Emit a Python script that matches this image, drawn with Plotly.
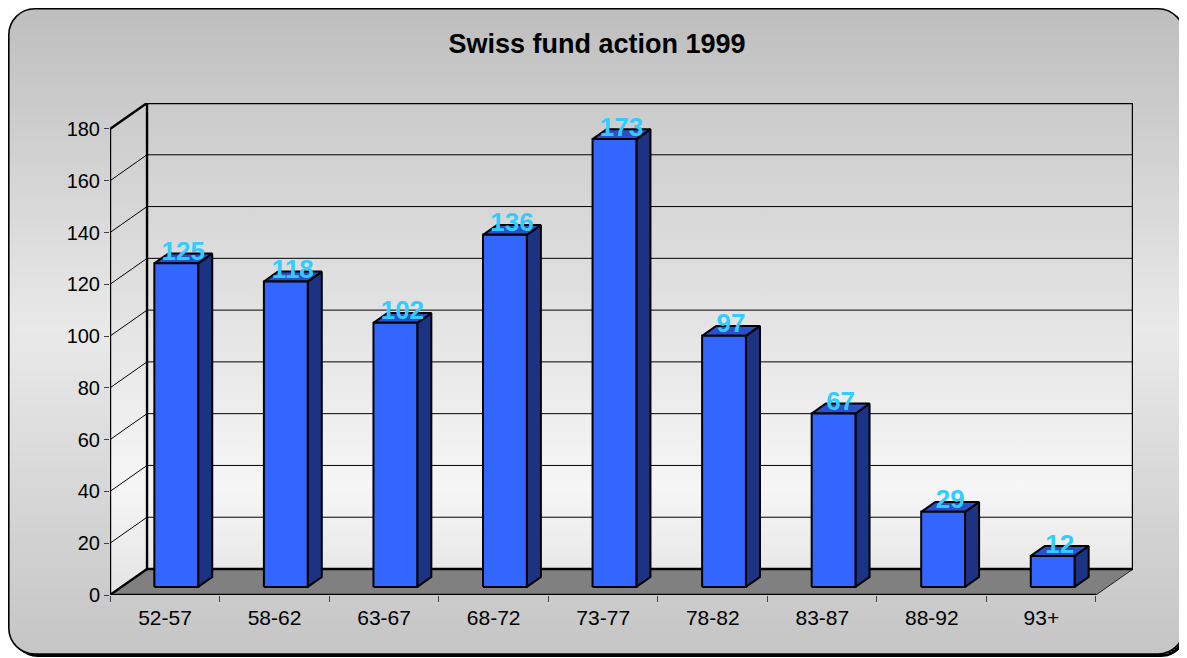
import math
import plotly.graph_objects as go

# ---------------- data ----------------
categories = ["52-57", "58-62", "63-67", "68-72", "73-77", "78-82", "83-87", "88-92", "93+"]
values = [125, 118, 102, 136, 173, 97, 67, 29, 12]
y_ticks = [0, 20, 40, 60, 80, 100, 120, 140, 160, 180]
title_text = "Swiss fund action 1999"

# ---------------- geometry / style ----------------
# the page body adds an 8px margin, so the figure is 8px smaller than the window
W, H = 1179, 650
L, R, T, B = 102, 54, 95, 63
N = len(categories)
YMAX = y_ticks[-1]
KX = 0.338     # depth offset in category units
KY = 10.04     # depth offset in value units
D0, D1 = 0.31, 0.69   # bar depth span (fraction of full depth)
HALF = 0.2            # half bar width in category units
FONT = "Liberation Sans, Arial, sans-serif"

XR = [-0.5, N - 0.5 + KX]
YR = [0, YMAX + KY]
PW = W - L - R
PH = H - T - B


def to_paper(px, py):
    return (px - L) / PW, (H - B - py) / PH


fig = go.Figure()

# ---------------- chart-area background (rounded, gradient) ----------------
shapes = []
BX0, BY0, BX1, BY1, RAD = 0.8, 0.8, 1176, 646, 26


def rr_path(x0, y0, x1, y1, r):
    k = 0.5523 * r
    pts = [("M", [(x0 + r, y0)]), ("L", [(x1 - r, y0)]),
           ("C", [(x1 - r + k, y0), (x1, y0 + r - k), (x1, y0 + r)]),
           ("L", [(x1, y1 - r)]),
           ("C", [(x1, y1 - r + k), (x1 - r + k, y1), (x1 - r, y1)]),
           ("L", [(x0 + r, y1)]),
           ("C", [(x0 + r - k, y1), (x0, y1 - r + k), (x0, y1 - r)]),
           ("L", [(x0, y0 + r)]),
           ("C", [(x0, y0 + r - k), (x0 + r - k, y0), (x0 + r, y0)])]
    s = ""
    for cmd, ps in pts:
        s += cmd + " ".join("%.5f,%.5f" % to_paper(a, b) for a, b in ps) + " "
    return s + "Z"


# shadow
shapes.append(dict(type="path", xref="paper", yref="paper", layer="below",
                   path=rr_path(BX0 + 3, BY0 + 3, BX1 + 3, BY1 + 3, RAD),
                   fillcolor="#000000", line=dict(width=0)))

stops = [(BY0, 190), (322, 233), (BY1, 197)]


def grey_at(y):
    for (ya, ca), (yb, cb) in zip(stops[:-1], stops[1:]):
        if ya <= y <= yb:
            t = (y - ya) / (yb - ya)
            return int(round(ca + (cb - ca) * t))
    return stops[-1][1]


step = 2
y = BY0
while y < BY1:
    yc = y + step / 2
    inset = 0.0
    if yc < BY0 + RAD:
        d = BY0 + RAD - yc
        inset = RAD - math.sqrt(max(RAD * RAD - d * d, 0))
    elif yc > BY1 - RAD:
        d = yc - (BY1 - RAD)
        inset = RAD - math.sqrt(max(RAD * RAD - d * d, 0))
    g = grey_at(yc)
    xa, ya_ = to_paper(BX0 + inset, y)
    xb, yb_ = to_paper(BX1 - inset, min(y + step + 0.6, BY1))
    shapes.append(dict(type="rect", xref="paper", yref="paper", layer="below",
                       x0=xa, x1=xb, y0=ya_, y1=yb_,
                       fillcolor="rgb(%d,%d,%d)" % (g, g, g), line=dict(width=0)))
    y += step

shapes.append(dict(type="path", xref="paper", yref="paper", layer="below",
                   path=rr_path(BX0, BY0, BX1, BY1, RAD),
                   fillcolor="rgba(0,0,0,0)", line=dict(color="#000000", width=1.6)))

# ---------------- walls ----------------
wall_grad = dict(type="vertical", start=0, stop=YMAX + KY,
                 colorscale=[[0, "#e4e4e4"], [0.22, "#f6f6f6"], [1, "#cbcbcb"]])
x_left, x_right = XR[0], N - 0.5
# back wall
fig.add_trace(go.Scatter(
    x=[x_left + KX, x_right + KX, x_right + KX, x_left + KX, x_left + KX],
    y=[KY, KY, YMAX + KY, YMAX + KY, KY],
    mode="lines", fill="toself", fillgradient=wall_grad,
    line=dict(width=0), hoverinfo="skip"))
# side wall
fig.add_trace(go.Scatter(
    x=[x_left, x_left + KX, x_left + KX, x_left, x_left],
    y=[0, KY, YMAX + KY, YMAX, 0],
    mode="lines", fill="toself", fillgradient=wall_grad,
    line=dict(width=0), hoverinfo="skip"))

# gridlines
gx, gy = [], []
for v in y_ticks[1:-1]:
    gx += [x_left, x_left + KX, x_right + KX, None]
    gy += [v, v + KY, v + KY, None]
fig.add_trace(go.Scatter(x=gx, y=gy, mode="lines",
                         line=dict(color="#000000", width=1), hoverinfo="skip"))

# floor
fig.add_trace(go.Scatter(
    x=[x_left, x_right, x_right + KX, x_left + KX, x_left],
    y=[0, 0, KY, KY, 0],
    mode="lines", fill="toself", fillcolor="#808080",
    line=dict(width=0), hoverinfo="skip"))
fig.add_trace(go.Scatter(x=[x_right, x_right + KX], y=[0, KY], mode="lines",
                         line=dict(color="#202020", width=1), hoverinfo="skip"))

# thick frame lines
fx = [x_right, x_left, x_left, x_left + KX, x_right + KX, x_right + KX, x_left + KX, x_left + KX, None,
      x_left, x_left + KX]
fy = [0, 0, YMAX, YMAX + KY, YMAX + KY, KY, KY, YMAX + KY, None,
      0, KY]
fig.add_trace(go.Scatter(x=fx, y=fy, mode="lines",
                         line=dict(color="#000000", width=2.4), hoverinfo="skip"))

# ---------------- 3D bars ----------------
front_x, front_y, top_x, top_y, side_x, side_y = [], [], [], [], [], []
for i, v in enumerate(values):
    xl, xr_ = i - HALF, i + HALF
    a0x, a0y = D0 * KX, D0 * KY
    a1x, a1y = D1 * KX, D1 * KY
    front_x += [xl + a0x, xr_ + a0x, xr_ + a0x, xl + a0x, xl + a0x, None]
    front_y += [a0y, a0y, v + a0y, v + a0y, a0y, None]
    top_x += [xl + a0x, xr_ + a0x, xr_ + a1x, xl + a1x, xl + a0x, None]
    top_y += [v + a0y, v + a0y, v + a1y, v + a1y, v + a0y, None]
    side_x += [xr_ + a0x, xr_ + a1x, xr_ + a1x, xr_ + a0x, xr_ + a0x, None]
    side_y += [a0y, a1y, v + a1y, v + a0y, a0y, None]

for xs, ys, col in [(side_x, side_y, "#1c3384"), (top_x, top_y, "#2a50cc"),
                    (front_x, front_y, "#3366ff")]:
    fig.add_trace(go.Scatter(x=xs, y=ys, mode="lines", fill="toself", fillcolor=col,
                             line=dict(color="#000000", width=2), hoverinfo="skip"))

# value labels
fig.add_trace(go.Scatter(
    x=[i + (D0 + D1) / 2 * KX for i in range(N)],
    y=[v + D1 * KY for v in values],
    text=[str(v) for v in values], mode="text", textposition="middle center",
    textfont=dict(family=FONT, size=26, color="#33ccff", weight="bold"),
    cliponaxis=False, hoverinfo="skip"))

# ---------------- layout ----------------
fig.update_layout(
    width=W, height=H,
    margin=dict(l=L, r=R, t=T, b=B, pad=0),
    paper_bgcolor="#ffffff", plot_bgcolor="rgba(0,0,0,0)",
    showlegend=False, shapes=shapes,
    title=dict(text="<b>%s</b>" % title_text, x=(597 - 8) / W, xanchor="center",
               y=1 - 36 / H, yanchor="middle", yref="container",
               font=dict(family=FONT, size=27, color="#000000")),
    font=dict(family=FONT, color="#000000"),
    xaxis=dict(range=XR, tickmode="array",
               tickvals=[i - 0.5 for i in range(N + 1)],
               ticktext=categories + [""],
               ticks="outside", ticklen=6, tickwidth=1, tickcolor="#404040",
               ticklabelshift=int(round(0.5 * PW / (XR[1] - XR[0]))),
               ticklabelstandoff=-2,
               showgrid=False, zeroline=False, showline=False,
               tickfont=dict(family=FONT, size=21, color="#000000"),
               fixedrange=True),
    yaxis=dict(range=YR, tickmode="array", tickvals=y_ticks,
               ticks="outside", ticklen=5, tickwidth=1, tickcolor="#404040",
               showgrid=False, zeroline=False, showline=False,
               tickfont=dict(family=FONT, size=20, color="#000000"),
               fixedrange=True),
)

fig.write_html("out.html")
